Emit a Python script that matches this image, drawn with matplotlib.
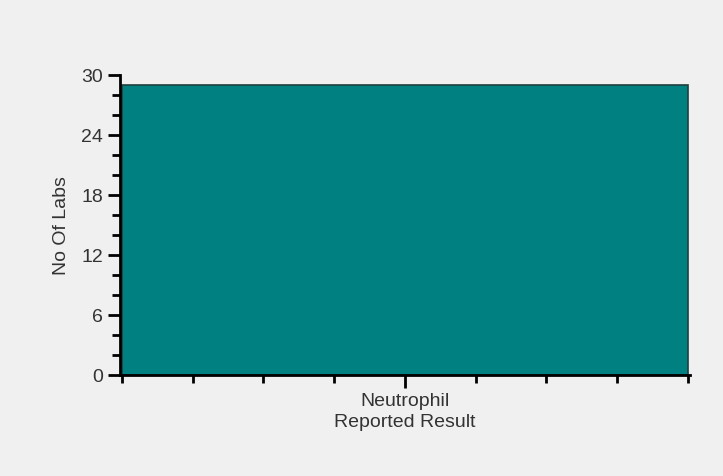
import matplotlib.pyplot as plt
from matplotlib.ticker import MultipleLocator, FixedLocator

categories = ["Neutrophil"]
counts = [29]

plt.rcParams['font.family'] = ['Liberation Sans', 'DejaVu Sans']
fig = plt.figure(figsize=(7.23, 4.76), dpi=100, facecolor='#f0f0f0')
ax = fig.add_axes([0.166, 0.212, 0.788, 0.630])
ax.set_facecolor('#f0f0f0')

ax.bar([0.5], counts, width=1.0, color='#008080', edgecolor='#1f3f3f', linewidth=1.2)

ax.set_xlim(-0.003, 1.003)
ax.set_ylim(0, 30)
ax.xaxis.set_major_locator(FixedLocator([0.5]))
ax.set_xticklabels(categories)
ax.xaxis.set_minor_locator(FixedLocator([i / 8 for i in range(9)]))
ax.yaxis.set_major_locator(MultipleLocator(6))
ax.yaxis.set_minor_locator(MultipleLocator(2))

for side in ['top', 'right']:
    ax.spines[side].set_visible(False)
for side in ['left', 'bottom']:
    ax.spines[side].set_linewidth(2)
    ax.spines[side].set_color('black')

ax.tick_params(which='major', length=9, width=2, colors='black', labelcolor='#333333', labelsize=14)
ax.tick_params(which='minor', length=6, width=2, colors='black')
ax.tick_params(axis='y', which='major', pad=3)
ax.tick_params(axis='x', which='major', pad=4)

ax.set_xlabel('Reported Result', fontsize=14, color='#333333', labelpad=3)
ax.set_ylabel('No Of Labs', fontsize=14, color='#333333', labelpad=8)

fig.savefig('out.png', dpi=100, facecolor=fig.get_facecolor())
